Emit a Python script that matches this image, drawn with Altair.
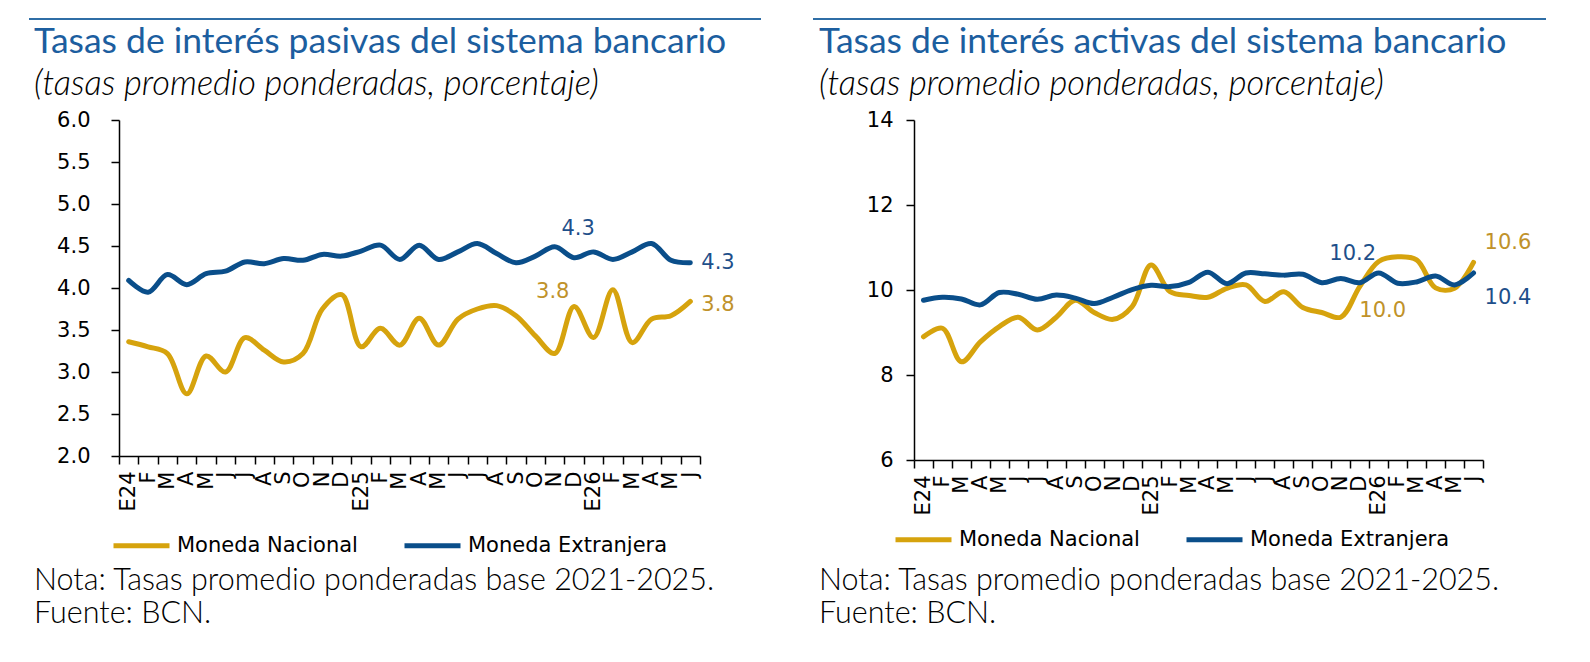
import altair as alt
import pandas as pd

cats = ["E24", "F", "M", "A", "M", "J", "J", "A", "S", "O", "N", "D",
        "E25", "F", "M", "A", "M", "J", "J", "A", "S", "O", "N", "D",
        "E26", "F", "M", "A", "M", "J"]
series = ["Moneda Nacional", "Moneda Extranjera"]

pas_mn = [3.36, 3.30, 3.22, 2.74, 3.19, 3.00, 3.41, 3.26, 3.12, 3.22,
          3.75, 3.92, 3.30, 3.52, 3.32, 3.64, 3.32, 3.63, 3.75, 3.79,
          3.67, 3.43, 3.22, 3.78, 3.41, 3.98, 3.35, 3.63, 3.67, 3.84]
pas_me = [4.09, 3.95, 4.16, 4.04, 4.17, 4.20, 4.31, 4.29, 4.35, 4.33,
          4.40, 4.38, 4.44, 4.51, 4.34, 4.51, 4.34, 4.43, 4.53, 4.41,
          4.30, 4.38, 4.49, 4.36, 4.43, 4.34, 4.43, 4.53, 4.33, 4.30]
act_mn = [8.90, 9.10, 8.31, 8.78, 9.14, 9.36, 9.06, 9.36, 9.76, 9.47,
          9.31, 9.61, 10.59, 9.96, 9.87, 9.83, 10.04, 10.12, 9.73, 9.96,
          9.59, 9.47, 9.36, 10.08, 10.67, 10.78, 10.71, 10.05, 10.04, 10.65]
act_me = [9.76, 9.83, 9.79, 9.65, 9.94, 9.90, 9.78, 9.88, 9.81, 9.68,
          9.83, 10.01, 10.11, 10.08, 10.18, 10.42, 10.15, 10.40, 10.38, 10.35,
          10.37, 10.17, 10.27, 10.17, 10.40, 10.16, 10.19, 10.33, 10.12, 10.40]

pas_lab_text = ["4.3", "3.8", "4.3", "3.8"]
pas_lab_cat = [23, 22, 29, 29]
pas_lab_val = [4.70, 3.95, 4.30, 3.80]
pas_lab_ser = [1, 0, 1, 0]

act_lab_text = ["10.2", "10.0", "10.6", "10.4"]
act_lab_cat = [23, 24, 29, 29]
act_lab_val = [10.85, 9.50, 11.10, 9.81]
act_lab_ser = [1, 0, 0, 1]

titles = ["Tasas de interés pasivas del sistema bancario",
          "Tasas de interés activas del sistema bancario"]
subtitle = "(tasas promedio ponderadas, porcentaje)"
notes = ["Nota: Tasas promedio ponderadas base 2021-2025.", "Fuente: BCN."]

pas_yticks = [2.0, 2.5, 3.0, 3.5, 4.0, 4.5, 5.0, 5.5, 6.0]
act_yticks = [6, 8, 10, 12, 14]

GOLD = "#D6A30D"
BLUE = "#0A4E8A"
LAB_COL = ["#C0922A", "#1E4F8A"]
TITLE_COL = "#1C5E9F"
RULE_COL = "#2F6EA6"
TICK_FONT = "DejaVu Sans"
FS = 21

label_expr = "[" + ",".join("'%s'" % c for c in cats) + "][datum.value]"


def long_df(mn, me):
    rows = []
    for k, vals in enumerate([mn, me]):
        for i, v in enumerate(vals):
            rows.append({"i": i, "v": v, "s": series[k]})
    return pd.DataFrame(rows)


def panel(mn, me, dom, yticks, yfmt, lpad, width, height, lx, ly,
          lab_text, lab_cat, lab_val, lab_ser, lab_style, title, rule_x, text_x):
    df = long_df(mn, me)
    x = alt.X("i:O", scale=alt.Scale(type="band", paddingInner=0, paddingOuter=0,
                                     domain=list(range(len(cats)))),
              axis=alt.Axis(title=None, labelExpr=label_expr, labelAngle=270,
                            tickBand="extent", tickSize=8, tickWidth=1.5,
                            tickColor="black", domainColor="black", domainWidth=1.5,
                            labelFont=TICK_FONT, labelFontSize=FS, labelColor="black",
                            labelPadding=7, grid=False, labelOverlap=False))
    y = alt.Y("v:Q", scale=alt.Scale(domain=dom, nice=False, zero=False),
              axis=alt.Axis(title=None, values=yticks, format=yfmt, tickSize=8,
                            tickWidth=1.5, tickColor="black", domainColor="black",
                            domainWidth=1.5, labelFont=TICK_FONT, labelFontSize=FS,
                            labelColor="black", labelPadding=lpad, grid=False))
    color = alt.Color("s:N", scale=alt.Scale(domain=series, range=[GOLD, BLUE]),
                      legend=alt.Legend(orient="none", legendX=lx, legendY=ly,
                                        direction="horizontal", title=None,
                                        symbolType="stroke", symbolStrokeWidth=5,
                                        symbolSize=3136, labelFont=TICK_FONT,
                                        labelFontSize=FS, labelColor="black",
                                        labelLimit=500,
                                        columnPadding=36, labelOffset=5, padding=0))
    layers = []
    for k in [0, 1]:
        layers.append(alt.Chart(df[df["s"] == series[k]]).mark_line(
            interpolate="catmull-rom", strokeWidth=5, strokeCap="round",
            strokeJoin="round").encode(x=x, y=y, color=color))
    for j in range(len(lab_text)):
        d = pd.DataFrame({"i": [lab_cat[j]], "v": [lab_val[j]], "t": [lab_text[j]]})
        align, dx = lab_style[j]
        layers.append(alt.Chart(d).mark_text(
            font=TICK_FONT, fontSize=FS, align=align, baseline="middle", dx=dx,
            color=LAB_COL[lab_ser[j]]).encode(x=x, y=y, text="t:N"))
    one = pd.DataFrame({"a": [0]})
    layers.append(alt.Chart(one).mark_rule(color=RULE_COL, strokeWidth=2).encode(
        x=alt.value(rule_x[0]), x2=alt.value(rule_x[1]), y=alt.value(-101)))
    texts = [(title, -67, 35.5, "normal", 400, TITLE_COL),
             (subtitle, -25, 34.5, "italic", 300, "black"),
             (notes[0], 470, 30.5, "normal", 300, "black"),
             (notes[1], 503, 30.5, "normal", 300, "black")]
    for t, yy, fs, st, fw, col in texts:
        layers.append(alt.Chart(pd.DataFrame({"t": [t]})).mark_text(
            align="left", baseline="alphabetic", font="Lato", fontSize=fs,
            fontStyle=st, fontWeight=fw, color=col).encode(
            x=alt.value(text_x), y=alt.value(yy), text="t:N"))
    return alt.layer(*layers).properties(width=width, height=height)


left = panel(pas_mn, pas_me, [2, 6], pas_yticks, ".1f", 21, 581, 336, -8, 395,
             pas_lab_text, pas_lab_cat, pas_lab_val, pas_lab_ser,
             [("center", 4), ("center", -2), ("left", 11), ("left", 11)],
             titles[0], (-90, 642), -85)
right = panel(act_mn, act_me, [6, 14], act_yticks, "d", 13, 569, 340, -21, 389,
              act_lab_text, act_lab_cat, act_lab_val, act_lab_ser,
              [("center", -7), ("center", 4), ("left", 11), ("left", 11)],
              titles[1], (-101, 632), -95)

chart = alt.hconcat(left, right, spacing=214, bounds="flush").resolve_scale(
    color="independent").resolve_legend(color="independent").properties(
    padding={"left": 20, "top": 10, "right": 5, "bottom": 5}
).configure_view(stroke=None)

chart.save("out.html", embed_options={"renderer": "svg", "actions": False})
